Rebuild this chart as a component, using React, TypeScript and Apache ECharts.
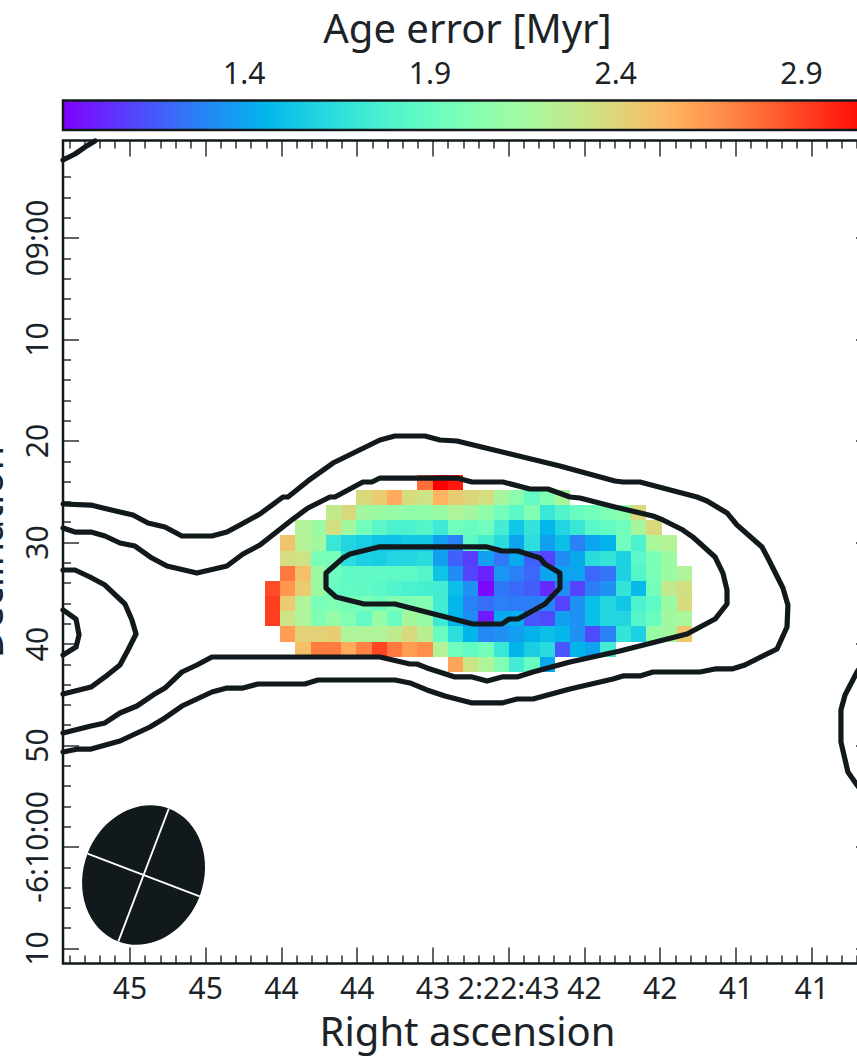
import React, { useEffect, useRef } from "react";
import * as echarts from "echarts";

const _ = null;

// Right ascension (seconds of 2:22:xx) of the pixel columns, declination (arcsec below -6:09:00) of the rows
const raCells = [44.559, 44.458, 44.358, 44.257, 44.156, 44.055, 43.955, 43.854, 43.753, 43.653, 43.552, 43.451, 43.351, 43.250, 43.149, 43.049, 42.948, 42.847, 42.746, 42.646, 42.545, 42.444, 42.344, 42.243, 42.142, 42.042, 41.941, 41.840];
const decCells = [24.09, 25.58, 27.08, 28.57, 30.06, 31.55, 33.05, 34.54, 36.03, 37.52, 39.02, 40.51, 42.0];

// Age error [Myr]
const row00 = [_, _, _, _, _, _, _, _, _, _, 2.78, 3.09, 3.02, _, _, _, _, _, _, _, _, _, _, _, _, _, _, _];
const row01 = [_, _, _, _, _, _, 2.38, 2.45, 2.58, 2.37, 2.33, 2.55, 2.45, 2.40, 2.36, 2.17, 2.05, 1.88, 2.0, 2.17, _, _, _, _, _, _, _, _];
const row02 = [_, _, _, _, 2.28, 2.38, 2.15, 2.12, 2.10, 2.07, 2.07, 2.12, 2.2, 2.15, 2.07, 1.95, 1.85, 2.0, 1.7, 1.8, 1.9, 1.95, 2.0, 2.05, 2.37, _, _, _];
const row03 = [_, _, 2.22, 2.12, 2.36, 2.15, 1.95, 1.85, 1.78, 1.78, 1.82, 1.72, 1.94, 1.9, 1.94, 1.74, 1.53, 1.68, 1.47, 1.6, 1.7, 1.84, 1.88, 1.94, 2.17, 2.38, _, _];
const row04 = [_, 2.48, 2.22, 2.15, 1.7, 1.6, 1.56, 1.52, 1.51, 1.54, 1.53, 1.38, 1.28, 1.86, 1.76, 1.64, 1.4, 1.65, 1.38, 1.5, 1.28, 1.4, 1.45, 1.94, 1.78, 2.18, 2.22, _];
const row05 = [_, 2.36, 2.33, 1.97, 1.97, 1.64, 1.58, 1.56, 1.6, 1.6, 1.64, 1.38, 1.18, 1.08, 1.38, 1.25, 1.42, 1.18, 1.1, 1.32, 1.42, 1.64, 1.68, 1.58, 1.85, 1.98, 2.12, _];
const row06 = [_, 2.75, 2.5, 2.12, 1.92, 1.87, 1.87, 1.87, 1.86, 1.86, 1.82, 1.52, 1.32, 1.1, 1.0, 1.35, 1.28, 1.2, 1.4, 1.4, 1.4, 1.2, 1.24, 1.58, 1.82, 1.97, 2.12, 2.2];
const row07 = [2.88, 2.65, 2.45, 2.13, 1.9, 1.88, 1.87, 1.85, 1.8, 1.78, 1.76, 1.74, 1.5, 1.33, 0.93, 1.25, 1.21, 1.17, 1.03, 1.32, 1.1, 1.27, 1.33, 1.68, 1.48, 1.95, 2.28, 2.35];
const row08 = [2.92, 2.45, 2.2, 1.98, 2.0, 1.96, 1.98, 1.92, 2.02, 2.0, 2.02, 1.74, 1.47, 1.28, 1.22, 1.28, 1.26, 1.27, 1.3, 1.1, 1.33, 1.5, 1.6, 1.53, 1.78, 1.86, 2.12, 2.37];
const row09 = [2.92, 2.32, 2.2, 2.0, 2.1, 2.0, 1.88, 2.1, 1.91, 2.16, 2.1, 1.72, 1.46, 1.32, 0.98, 1.42, 1.44, 1.15, 1.12, 1.38, 1.33, 1.5, 1.6, 1.6, 1.82, 1.9, 2.14, 2.18];
const row10 = [_, 2.63, 2.42, 2.42, 2.44, 2.2, 2.2, 2.2, 2.28, 2.38, 2.25, 1.9, 1.65, 1.46, 1.3, 1.33, 1.38, 1.45, 1.5, 1.47, 1.33, 1.12, 1.28, 1.68, 1.58, 2.1, 2.14, 2.47];
const row11 = [_, _, 2.5, 2.74, 2.74, 2.58, 2.72, 2.9, 2.75, 2.63, 2.68, 2.22, 1.94, 1.88, 1.95, 1.7, 1.46, 1.56, 1.63, 1.15, 1.46, 1.4, 1.74, _, _, _, _, _];
const row12 = [_, _, _, _, _, _, _, _, _, _, _, _, 2.6, 2.32, 2.2, 2.0, 1.74, 1.9, 1.42, _, _, _, _, _, _, _, _, _];
const ageRows = [row00, row01, row02, row03, row04, row05, row06, row07, row08, row09, row10, row11, row12];

// Contours as [RA, Dec offset]
const contourOuter = [[45.942, 26.21], [45.757, 26.31], [45.678, 26.60], [45.566, 26.99], [45.480, 27.29], [45.381, 28.08], [45.269, 28.47], [45.157, 29.36], [44.959, 29.36], [44.860, 28.97], [44.774, 28.28], [44.642, 27.19], [44.490, 25.52], [44.457, 25.52], [44.325, 23.94], [44.160, 22.17], [43.850, 19.90], [43.751, 19.51], [43.553, 19.51], [43.454, 19.90], [43.342, 20.00], [42.662, 22.46], [42.299, 23.94], [42.246, 24.04], [42.134, 24.04], [41.757, 25.52], [41.691, 25.91], [41.559, 27.09], [41.493, 28.28], [41.328, 30.44], [41.276, 31.92], [41.190, 34.48], [41.157, 36.16], [41.163, 38.33], [41.229, 40.49], [41.441, 42.07], [41.526, 42.46], [41.638, 42.46], [41.738, 42.76], [42.048, 42.76], [42.134, 43.15], [42.246, 43.15], [42.312, 43.45], [42.596, 44.43], [42.840, 45.42], [42.945, 45.42], [43.044, 45.81], [43.242, 45.81], [43.421, 45.12], [43.540, 44.53], [43.652, 43.84], [43.751, 43.55], [44.259, 43.55], [44.345, 43.94], [44.655, 43.94], [44.754, 44.34], [44.860, 44.34], [44.959, 44.73], [45.058, 45.42], [45.157, 46.11], [45.269, 47.29], [45.368, 48.18], [45.566, 49.56], [45.757, 50.35], [45.843, 50.35], [45.942, 50.64]];
const contourSecond = [[45.942, 28.57], [45.863, 28.97], [45.757, 28.97], [45.665, 29.36], [45.566, 30.05], [45.467, 30.35], [45.355, 31.53], [45.256, 32.32], [45.058, 33.01], [44.860, 32.32], [44.754, 31.13], [44.642, 30.25], [44.424, 27.69], [44.325, 26.60], [44.180, 25.52], [44.147, 25.52], [43.962, 24.04], [43.903, 24.04], [43.850, 23.65], [43.342, 23.65], [43.242, 24.04], [43.038, 24.04], [42.860, 24.73], [42.741, 24.73], [42.596, 25.52], [42.530, 25.62], [42.299, 26.50], [42.048, 27.39], [41.982, 27.78], [41.850, 28.77], [41.784, 29.46], [41.638, 31.43], [41.586, 33.01], [41.559, 34.68], [41.559, 36.06], [41.638, 37.54], [41.823, 39.02], [42.266, 40.69], [42.596, 41.77], [42.840, 42.76], [42.945, 43.25], [43.044, 43.25], [43.143, 43.65], [43.242, 43.25], [43.355, 43.25], [43.540, 42.36], [43.606, 41.97], [43.652, 41.97], [43.850, 41.28], [44.959, 41.28], [45.058, 42.07], [45.157, 42.76], [45.269, 44.34], [45.348, 45.03], [45.454, 46.11], [45.566, 46.80], [45.665, 47.78], [45.757, 48.08], [45.942, 48.77]];
const contourLeftLobe = [[45.942, 32.71], [45.863, 32.71], [45.764, 33.40], [45.665, 34.19], [45.533, 36.06], [45.487, 37.64], [45.460, 39.02], [45.513, 40.59], [45.566, 42.07], [45.665, 43.25], [45.757, 44.24], [45.942, 44.93]];
const contourLeftCore = [[45.942, 36.65], [45.856, 37.54], [45.836, 39.11], [45.856, 40.30], [45.942, 41.09]];
const contourTopLeft = [[45.942, -7.685], [45.863, -8.276], [45.797, -8.965], [45.731, -9.556]];
const contourRight = [[40.62, 41.0], [40.701, 42.76], [40.780, 45.03], [40.807, 46.50], [40.807, 49.66], [40.761, 52.61], [40.701, 53.89], [40.62, 55.5]];
const contourCentre = [[43.856, 30.44], [43.143, 30.44], [43.044, 30.84], [42.939, 30.84], [42.794, 31.53], [42.761, 32.12], [42.662, 33.01], [42.662, 34.48], [42.761, 36.06], [42.939, 37.54], [42.998, 37.54], [43.044, 38.03], [43.236, 38.03], [43.751, 36.06], [43.955, 36.06], [44.140, 35.37], [44.206, 34.48], [44.206, 33.01], [44.094, 31.53], [44.048, 31.13], [43.856, 30.44]];
const contours = [contourOuter, contourSecond, contourLeftLobe, contourLeftCore, contourTopLeft, contourRight, contourCentre];

// Ticks
const raMajor = [45.5, 45, 44.5, 44, 43.5, 43, 42.5, 42, 41.5, 41];
const raLabels = ["45", "45", "44", "44", "43", "2:22:43", "42", "42", "41", "41"];
const raMinor = [45.9, 45.8, 45.7, 45.6, 45.4, 45.3, 45.2, 45.1, 44.9, 44.8, 44.7, 44.6, 44.4, 44.3, 44.2, 44.1, 43.9, 43.8, 43.7, 43.6, 43.4, 43.3, 43.2, 43.1, 42.9, 42.8, 42.7, 42.6, 42.4, 42.3, 42.2, 42.1, 41.9, 41.8, 41.7, 41.6, 41.4, 41.3, 41.2, 41.1, 40.9, 40.8, 40.7];
const decMajor = [0, 10, 20, 30, 40, 50, 60, 70];
const decLabels = ["09:00", "10", "20", "30", "40", "50", "-6:10:00", "10"];
const decMinor = [-8, -6, -4, -2, 2, 4, 6, 8, 12, 14, 16, 18, 22, 24, 26, 28, 32, 34, 36, 38, 42, 44, 46, 48, 52, 54, 56, 58, 62, 64, 66, 68];
const colorbarTicks = [1.4, 1.9, 2.4, 2.9];

const rainbowStops = ["#8000ff", "#6628fe", "#4d4ffc", "#3374f8", "#1a96f2", "#00b4eb", "#1acee3", "#33e3da", "#4df2ce", "#66fcc2", "#80ffb4", "#99fca5", "#b3f296", "#cce385", "#e6ce74", "#ffb462", "#ff964f", "#ff743b", "#ff4f28", "#ff2814", "#ff0000"];

const RA_MIN = 40.602;
const RA_MAX = 45.942;
const DEC_MIN = -9.606;
const DEC_MAX = 71.48;
const AGE_MIN = 0.912;
const AGE_MAX = 3.09;
const CELL_RA = 0.1014;
const CELL_DEC = 1.505;

const INK = "#12191c";
const TEXT = "#1c2327";
const FONT = "Noto Sans";

function pick(values: number[], labels: string[], v: number) {
  let best = 0;
  values.forEach((x, i) => {
    if (Math.abs(x - v) < Math.abs(values[best] - v)) best = i;
  });
  return labels[best];
}

function buildOption() {
  const cells: number[][] = [];
  ageRows.forEach((row, r) =>
    row.forEach((v, c) => {
      if (v !== null) cells.push([raCells[c], decCells[r], v as number]);
    })
  );

  const xBase = {
    type: "value",
    gridIndex: 0,
    inverse: true,
    min: RA_MIN,
    max: RA_MAX,
    splitLine: { show: false },
    axisLine: { show: false, onZero: false },
    axisLabel: { show: false },
  };
  const yBase = {
    type: "value",
    gridIndex: 0,
    inverse: true,
    min: DEC_MIN,
    max: DEC_MAX,
    splitLine: { show: false },
    axisLine: { show: false, onZero: false },
    axisLabel: { show: false },
  };
  const majorTick = { width: 1.5, color: "#2a3135" };
  const minorTick = { width: 1.5, color: "#2a3135" };

  return {
    animation: false,
    backgroundColor: "#ffffff",
    textStyle: { fontFamily: FONT },
    grid: [
      { left: 63, top: 140.5, width: 809, height: 823, show: true, borderColor: INK, borderWidth: 2.5, backgroundColor: "transparent", z: 6, containLabel: false, outerBoundsMode: "none" },
      { left: 63, top: 100.5, width: 809, height: 29.5, show: true, borderColor: INK, borderWidth: 2.5, backgroundColor: "transparent", z: 6, containLabel: false, outerBoundsMode: "none" },
    ],
    xAxis: [
      {
        ...xBase,
        position: "bottom",
        axisTick: { show: true, inside: true, length: 16, customValues: raMajor, lineStyle: majorTick },
        axisLabel: {
          show: true,
          customValues: raMajor,
          margin: 9,
          fontSize: 30,
          fontFamily: FONT,
          color: TEXT,
          formatter: (v: number) => pick(raMajor, raLabels, v),
        },
        name: "Right ascension",
        nameLocation: "middle",
        nameGap: 47,
        nameTextStyle: { fontSize: 40, fontFamily: FONT, color: TEXT },
      },
      { ...xBase, position: "bottom", axisTick: { show: true, inside: true, length: 8, customValues: raMinor, lineStyle: minorTick } },
      { ...xBase, position: "top", axisTick: { show: true, inside: true, length: 16, customValues: raMajor, lineStyle: majorTick } },
      { ...xBase, position: "top", axisTick: { show: true, inside: true, length: 8, customValues: raMinor, lineStyle: minorTick } },
      {
        type: "value",
        gridIndex: 1,
        position: "top",
        min: AGE_MIN,
        max: AGE_MAX,
        splitLine: { show: false },
        axisLine: { show: false, onZero: false },
        axisTick: { show: true, inside: true, length: 12, customValues: colorbarTicks, lineStyle: { width: 1.5, color: "#2a3135" } },
        axisLabel: { show: true, customValues: colorbarTicks, margin: 13, fontSize: 30, fontFamily: FONT, color: TEXT, formatter: (v: number) => v.toFixed(1) },
        name: "Age error [Myr]",
        nameLocation: "middle",
        nameGap: 53,
        nameTextStyle: { fontSize: 40, fontFamily: FONT, color: TEXT },
      },
    ],
    yAxis: [
      {
        ...yBase,
        position: "left",
        axisTick: { show: true, inside: true, length: 16, customValues: decMajor, lineStyle: majorTick },
        axisLabel: {
          show: true,
          customValues: decMajor,
          rotate: 90,
          margin: 12,
          fontSize: 30,
          fontFamily: FONT,
          color: TEXT,
          formatter: (v: number) => pick(decMajor, decLabels, v),
        },
        name: "Declination",
        nameLocation: "middle",
        nameRotate: 90,
        nameGap: 56,
        nameTextStyle: { fontSize: 40, fontFamily: FONT, color: TEXT },
      },
      { ...yBase, position: "left", axisTick: { show: true, inside: true, length: 8, customValues: decMinor, lineStyle: minorTick } },
      { ...yBase, position: "right", axisTick: { show: true, inside: true, length: 16, customValues: decMajor, lineStyle: majorTick } },
      { ...yBase, position: "right", axisTick: { show: true, inside: true, length: 8, customValues: decMinor, lineStyle: minorTick } },
      { type: "value", gridIndex: 1, min: 0, max: 1, splitLine: { show: false }, axisLine: { show: false, onZero: false }, axisTick: { show: false }, axisLabel: { show: false } },
    ],
    visualMap: {
      show: false,
      type: "continuous",
      seriesIndex: 0,
      dimension: 2,
      min: AGE_MIN,
      max: AGE_MAX,
      inRange: { color: rainbowStops },
    },
    series: [
      {
        type: "custom",
        coordinateSystem: "cartesian2d",
        xAxisIndex: 0,
        yAxisIndex: 0,
        data: cells,
        encode: { x: 0, y: 1 },
        z: 2,
        renderItem: (_p: any, api: any) => {
          const a = api.coord([api.value(0) + CELL_RA / 2, api.value(1) - CELL_DEC / 2]);
          const b = api.coord([api.value(0) - CELL_RA / 2, api.value(1) + CELL_DEC / 2]);
          const x = Math.round(a[0]);
          const y = Math.round(a[1]);
          return {
            type: "rect",
            shape: { x, y, width: Math.round(b[0]) - x, height: Math.round(b[1]) - y },
            style: { fill: api.visual("color") },
          };
        },
      },
      ...contours.map((points) => ({
        type: "line",
        xAxisIndex: 0,
        yAxisIndex: 0,
        data: points,
        showSymbol: false,
        symbol: "none",
        smooth: false,
        clip: true,
        silent: true,
        z: 4,
        lineStyle: { color: INK, width: 5.2, join: "round", cap: "round" },
      })),
      {
        type: "custom",
        coordinateSystem: "cartesian2d",
        xAxisIndex: 4,
        yAxisIndex: 4,
        data: [[AGE_MIN, 0, AGE_MAX, 1]],
        silent: true,
        z: 2,
        renderItem: (_p: any, api: any) => {
          const a = api.coord([api.value(0), api.value(3)]);
          const b = api.coord([api.value(2), api.value(1)]);
          return {
            type: "rect",
            shape: { x: a[0], y: a[1], width: b[0] - a[0], height: b[1] - a[1] },
            style: {
              fill: new echarts.graphic.LinearGradient(
                0, 0, 1, 0,
                rainbowStops.map((color, i) => ({ offset: i / (rainbowStops.length - 1), color }))
              ),
            },
          };
        },
      },
    ],
    graphic: [
      {
        type: "group",
        x: 143.6,
        y: 875,
        rotation: -0.363,
        z: 10,
        silent: true,
        children: [
          { type: "ellipse", shape: { cx: 0, cy: 0, rx: 60, ry: 71 }, style: { fill: INK } },
          { type: "line", shape: { x1: 0, y1: -71, x2: 0, y2: 71 }, style: { stroke: "#ffffff", lineWidth: 1.8 } },
          { type: "line", shape: { x1: -60, y1: 0, x2: 60, y2: 0 }, style: { stroke: "#ffffff", lineWidth: 1.8 } },
        ],
      },
    ],
  };
}

export default function App() {
  const ref = useRef<HTMLDivElement>(null);
  useEffect(() => {
    document.body.style.margin = "0";
    const chart = echarts.init(ref.current!, undefined, { renderer: "svg" });
    chart.setOption(buildOption() as any);
    return () => chart.dispose();
  }, []);
  return <div ref={ref} style={{ position: "absolute", left: 0, top: 0, width: 857, height: 1064 }} />;
}
